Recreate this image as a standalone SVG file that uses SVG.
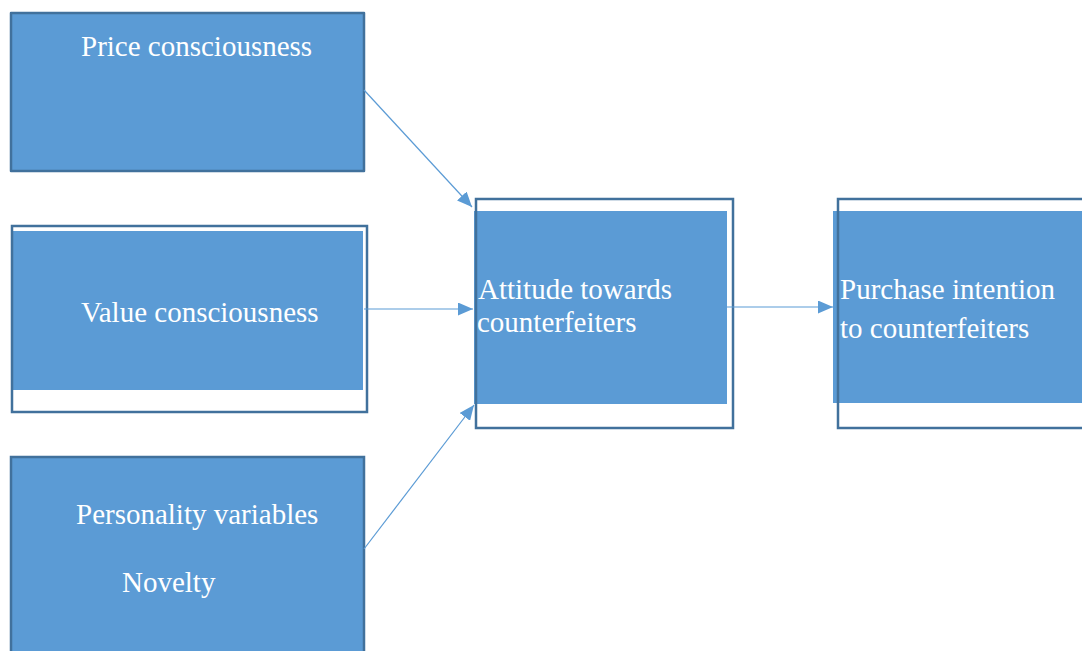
<svg xmlns="http://www.w3.org/2000/svg" width="1082" height="651" viewBox="0 0 1082 651">
<defs>
<style>
.fill{fill:#5b9bd5;}
.frame{fill:none;stroke:#41719c;stroke-width:2.5;}
.label{font-family:"Liberation Serif","Times New Roman",serif;font-size:29px;fill:#ffffff;}
.conn{stroke:#5b9bd5;stroke-width:1.2;fill:none;marker-end:url(#ah);}
</style>
<marker id="ah" viewBox="0 0 15 13" refX="15" refY="6.5" markerWidth="15" markerHeight="13" markerUnits="userSpaceOnUse" orient="auto">
<path d="M0,0 L15,6.5 L0,13 z" fill="#5b9bd5"/>
</marker>
</defs>
<rect width="1082" height="651" fill="#ffffff"/>
<g id="price">
<rect class="fill" x="11" y="13" width="353" height="158"/>
<rect class="frame" x="11" y="13" width="353" height="158" stroke-linejoin="round"/>
<text class="label" x="81" y="56">Price consciousness</text>
</g>
<g id="value">
<rect class="fill" x="13" y="231" width="350" height="159"/>
<rect class="frame" x="12" y="226" width="355" height="186"/>
<text class="label" x="81" y="322">Value consciousness</text>
</g>
<g id="personality">
<rect class="fill" x="11" y="457" width="353" height="200"/>
<rect class="frame" x="11" y="457" width="353" height="200"/>
<text class="label" x="76" y="524">Personality variables</text>
<text class="label" x="122" y="592">Novelty</text>
</g>
<g id="attitude">
<rect class="fill" x="474" y="211" width="253" height="193"/>
<rect class="frame" x="476" y="199" width="257" height="229"/>
<text class="label" x="478" y="299">Attitude towards</text>
<text class="label" x="477" y="332">counterfeiters</text>
</g>
<g id="purchase">
<rect class="fill" x="833" y="211" width="260" height="192"/>
<rect class="frame" x="838" y="199" width="260" height="229"/>
<text class="label" x="840" y="299">Purchase intention</text>
<text class="label" x="840" y="338">to counterfeiters</text>
</g>
<g id="connectors">
<line class="conn" x1="364" y1="90" x2="472" y2="207"/>
<line class="conn" x1="364" y1="309" x2="473" y2="309"/>
<line class="conn" x1="364" y1="549" x2="474" y2="405"/>
<line class="conn" x1="727" y1="307" x2="833" y2="307"/>
</g>
</svg>
